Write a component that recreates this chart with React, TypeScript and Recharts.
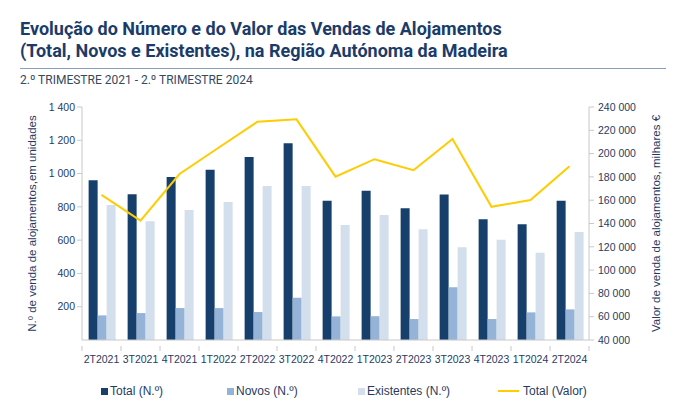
import React from 'react';
import {
  ComposedChart,
  Bar,
  Line,
  XAxis,
  YAxis,
} from 'recharts';

// quarters shown on the x axis
const quarters = [
  '2T2021', '3T2021', '4T2021', '1T2022', '2T2022', '3T2022', '4T2022',
  '1T2023', '2T2023', '3T2023', '4T2023', '1T2024', '2T2024',
];

// number of dwellings sold (left axis)
const totalN = [960, 876, 980, 1023, 1100, 1182, 837, 897, 791, 875, 725, 695, 837];
const novosN = [148, 162, 192, 192, 168, 254, 142, 143, 126, 317, 126, 166, 184];
const existentesN = [811, 713, 781, 829, 925, 925, 691, 751, 665, 557, 603, 525, 649];

// value of sales, thousand euros (right axis)
const totalValor = [
  164500, 142400, 182500, 205000, 227400, 229400, 180200,
  195200, 185700, 212600, 154300, 160200, 189100,
];

const leftTicks = [200, 400, 600, 800, 1000, 1200, 1400];
const rightTicks = [40000, 60000, 80000, 100000, 120000, 140000, 160000, 180000, 200000, 220000, 240000];

const data = quarters.map((q, i) => ({
  q,
  total: totalN[i],
  novos: novosN[i],
  existentes: existentesN[i],
  valor: totalValor[i],
}));

const NAVY = '#173f6b';
const MID = '#95b3d7';
const LIGHT = '#d3dfec';
const GOLD = '#ffcc00';
const TEXT = '#1f3b63';
const AXIS = '#c8c8c8';
const FONT = '"Liberation Sans", Arial, sans-serif';

const fmt = (v: number) => String(v).replace(/\B(?=(\d{3})+(?!\d))/g, ' ');

const BAND = 507 / quarters.length;

const XTick = (props: any) => {
  const { x, y, payload, index } = props;
  const left = x - BAND / 2;
  return (
    <g>
      <line x1={left} x2={left} y1={y - 2} y2={y + 3} stroke={AXIS} />
      {index === quarters.length - 1 && (
        <line x1={x + BAND / 2} x2={x + BAND / 2} y1={y - 2} y2={y + 3} stroke={AXIS} />
      )}
      <text x={x} y={y + 15} textAnchor="middle" fill={TEXT} fontSize={10.5} fontFamily={FONT}>
        {payload.value}
      </text>
    </g>
  );
};

const legendItems = [
  { label: 'Total (N.º)', color: NAVY, kind: 'box', left: 101 },
  { label: 'Novos (N.º)', color: MID, kind: 'box', left: 227 },
  { label: 'Existentes (N.º)', color: LIGHT, kind: 'box', left: 358 },
  { label: 'Total (Valor)', color: GOLD, kind: 'line', left: 498 },
];

export default function App() {
  return (
    <div
      style={{
        position: 'absolute',
        top: 0,
        left: 0,
        width: 700,
        height: 414,
        background: '#fff',
        overflow: 'hidden',
      }}
    >
      <div
        style={{
          position: 'absolute',
          left: 20,
          top: 18,
          fontFamily: 'Roboto, sans-serif',
          fontWeight: 700,
          fontSize: 18,
          lineHeight: '22px',
          color: '#1b3c69',
          whiteSpace: 'nowrap',
        }}
      >
        Evolução do Número e do Valor das Vendas de Alojamentos
        <br />
        (Total, Novos e Existentes), na Região Autónoma da Madeira
      </div>
      <div
        style={{
          position: 'absolute',
          left: 20,
          top: 68,
          width: 646,
          height: 1,
          background: '#8aa0b8',
        }}
      />
      <div
        style={{
          position: 'absolute',
          left: 20,
          top: 73,
          fontFamily: 'Roboto, sans-serif',
          fontSize: 12,
          lineHeight: '14px',
          color: '#34495e',
          whiteSpace: 'nowrap',
        }}
      >
        2.º TRIMESTRE 2021 - 2.º TRIMESTRE 2024
      </div>

      <div style={{ position: 'absolute', left: 0, top: 0 }}>
        <ComposedChart
          width={700}
          height={414}
          data={data}
          margin={{ top: 107, right: 41, bottom: 44, left: 20 }}
          barCategoryGap="17%"
          barGap={0}
        >
          <XAxis
            dataKey="q"
            height={30}
            interval={0}
            stroke={AXIS}
            tickLine={false}
            tick={<XTick />}
          />
          <YAxis
            yAxisId="left"
            width={62}
            domain={[0, 1400]}
            ticks={leftTicks}
            tickFormatter={fmt}
            stroke={AXIS}
            tickSize={5}
            tickMargin={2}
            tick={{ fill: TEXT, fontSize: 10.5, fontFamily: FONT }}
            label={{
              value: 'N.º de venda de alojamentos,em unidades',
              angle: -90,
              position: 'insideLeft',
              offset: 12,
              style: { textAnchor: 'middle', fill: TEXT, fontSize: 11.5, fontFamily: FONT },
            }}
          />
          <YAxis
            yAxisId="right"
            orientation="right"
            width={70}
            domain={[40000, 240000]}
            ticks={rightTicks}
            tickFormatter={fmt}
            stroke={AXIS}
            tickSize={5}
            tickMargin={4}
            tick={{ fill: TEXT, fontSize: 10.5, fontFamily: FONT, textAnchor: 'start' }}
            label={{
              value: 'Valor de venda de alojamentos, milhares €',
              angle: -90,
              position: 'insideRight',
              offset: 3,
              style: { textAnchor: 'middle', fill: TEXT, fontSize: 11.5, fontFamily: FONT },
            }}
          />
          <Bar yAxisId="left" dataKey="total" fill={NAVY} isAnimationActive={false} />
          <Bar yAxisId="left" dataKey="novos" fill={MID} isAnimationActive={false} />
          <Bar yAxisId="left" dataKey="existentes" fill={LIGHT} isAnimationActive={false} />
          <Line
            yAxisId="right"
            dataKey="valor"
            stroke={GOLD}
            strokeWidth={2}
            dot={false}
            type="linear"
            isAnimationActive={false}
          />
        </ComposedChart>
      </div>

      {legendItems.map((it) => (
        <div
          key={it.label}
          style={{
            position: 'absolute',
            left: it.left,
            top: 383,
            height: 16,
            display: 'flex',
            alignItems: 'center',
            fontFamily: FONT,
            fontSize: 12,
            color: TEXT,
            whiteSpace: 'nowrap',
          }}
        >
          {it.kind === 'box' ? (
            <span style={{ width: 7, height: 7, background: it.color, marginRight: 2 }} />
          ) : (
            <span style={{ width: 21, height: 2, background: it.color, marginRight: 4 }} />
          )}
          {it.label}
        </div>
      ))}
    </div>
  );
}
